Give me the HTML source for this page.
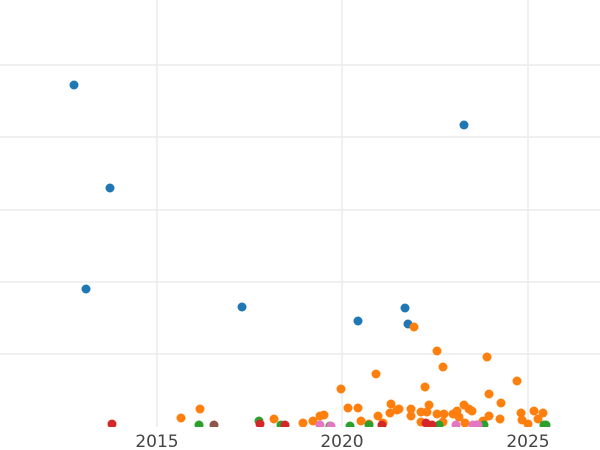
<!DOCTYPE html>
<html><head><style>html,body{margin:0;padding:0;background:#fff;}</style></head><body>
<svg width="600" height="450" xmlns="http://www.w3.org/2000/svg" style="display:block">
<defs><clipPath id="c"><rect x="0" y="0" width="600" height="427"/></clipPath></defs>
<g stroke="#ebebeb" stroke-width="1.5">
<line x1="0" y1="65" x2="600" y2="65"/><line x1="0" y1="137" x2="600" y2="137"/>
<line x1="0" y1="210" x2="600" y2="210"/><line x1="0" y1="282" x2="600" y2="282"/>
<line x1="0" y1="354" x2="600" y2="354"/>
<line x1="157" y1="0" x2="157" y2="427"/><line x1="342" y1="0" x2="342" y2="427"/><line x1="528" y1="0" x2="528" y2="427"/>
</g>
<g clip-path="url(#c)">
<g fill="#1f77b4"><circle cx="74" cy="85" r="4.5"/><circle cx="110" cy="188" r="4.5"/><circle cx="86" cy="289" r="4.5"/><circle cx="242" cy="307" r="4.5"/><circle cx="464" cy="125" r="4.5"/><circle cx="358" cy="321" r="4.5"/><circle cx="405" cy="308" r="4.5"/><circle cx="408" cy="324" r="4.5"/></g>
<g fill="#ff7f0e">
<circle cx="181" cy="418" r="4.5"/><circle cx="200" cy="409" r="4.5"/><circle cx="274" cy="419" r="4.5"/><circle cx="303" cy="423" r="4.5"/><circle cx="313" cy="421" r="4.5"/><circle cx="320" cy="416" r="4.5"/><circle cx="324" cy="415" r="4.5"/><circle cx="341" cy="389" r="4.5"/><circle cx="348" cy="408" r="4.5"/><circle cx="358" cy="408" r="4.5"/><circle cx="361" cy="421" r="4.5"/><circle cx="369" cy="424" r="4.5"/><circle cx="376" cy="374" r="4.5"/><circle cx="378" cy="416" r="4.5"/><circle cx="383" cy="423" r="4.5"/><circle cx="391" cy="404" r="4.5"/><circle cx="390" cy="413" r="4.5"/><circle cx="397" cy="410" r="4.5"/><circle cx="399" cy="409" r="4.5"/><circle cx="411" cy="409" r="4.5"/><circle cx="411" cy="416" r="4.5"/><circle cx="414" cy="327" r="4.5"/><circle cx="421" cy="412" r="4.5"/><circle cx="421" cy="422" r="4.5"/><circle cx="425" cy="387" r="4.5"/><circle cx="429" cy="405" r="4.5"/><circle cx="427" cy="412" r="4.5"/><circle cx="437" cy="351" r="4.5"/><circle cx="443" cy="367" r="4.5"/><circle cx="437" cy="414" r="4.5"/><circle cx="444" cy="414" r="4.5"/><circle cx="443" cy="422" r="4.5"/><circle cx="453" cy="414" r="4.5"/><circle cx="457" cy="411" r="4.5"/><circle cx="459" cy="417" r="4.5"/><circle cx="464" cy="405" r="4.5"/><circle cx="469" cy="409" r="4.5"/><circle cx="472" cy="411" r="4.5"/><circle cx="465" cy="423" r="4.5"/><circle cx="487" cy="357" r="4.5"/><circle cx="489" cy="394" r="4.5"/><circle cx="489" cy="416" r="4.5"/><circle cx="483" cy="421" r="4.5"/><circle cx="501" cy="403" r="4.5"/><circle cx="500" cy="419" r="4.5"/><circle cx="517" cy="381" r="4.5"/><circle cx="521" cy="413" r="4.5"/><circle cx="522" cy="420" r="4.5"/><circle cx="528" cy="424" r="4.5"/><circle cx="534" cy="411" r="4.5"/><circle cx="538" cy="419" r="4.5"/><circle cx="543" cy="413" r="4.5"/>
</g>
<g fill="#2ca02c"><circle cx="199" cy="425" r="4.5"/><circle cx="259" cy="421" r="4.5"/><circle cx="281" cy="425" r="4.5"/><circle cx="330" cy="426" r="4.5"/><circle cx="350" cy="426" r="4.5"/><circle cx="369" cy="425" r="4.5"/><circle cx="439" cy="425" r="4.5"/><circle cx="484" cy="425" r="4.5"/><circle cx="544" cy="425" r="4.5"/><circle cx="546" cy="425" r="4.5"/></g>
<g fill="#8c564b"><circle cx="214" cy="425" r="4.5"/></g>
<g fill="#d62728"><circle cx="112" cy="424" r="4.5"/><circle cx="260" cy="424" r="4.5"/><circle cx="285" cy="425" r="4.5"/><circle cx="382" cy="425" r="4.5"/><circle cx="426" cy="423" r="4.5"/><circle cx="432" cy="425" r="4.5"/><circle cx="477" cy="425" r="4.5"/></g>
<g fill="#e377c2"><circle cx="320" cy="425" r="4.5"/><circle cx="331" cy="426" r="4.5"/><circle cx="456" cy="425" r="4.5"/><circle cx="473" cy="425" r="4.5"/><circle cx="478" cy="425" r="4.5"/></g>
</g>
<g font-family="'DejaVu Sans','Liberation Sans',sans-serif" font-size="17" fill="#444" text-anchor="middle">
<text x="157" y="447">2015</text><text x="342" y="447">2020</text><text x="528" y="447">2025</text>
</g>
</svg>
</body></html>
